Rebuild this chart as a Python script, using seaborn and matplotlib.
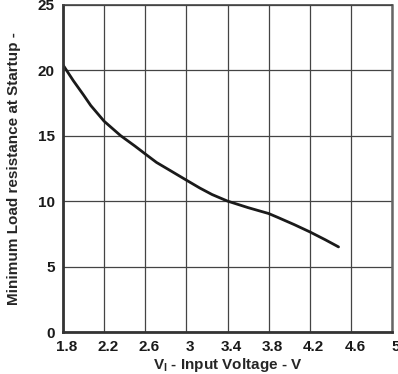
import matplotlib
matplotlib.use("Agg")
import matplotlib.pyplot as plt
import matplotlib.transforms as mtransforms
import seaborn as sns
import numpy as np

# curve
vin = [1.80, 1.90, 2.00, 2.07, 2.20, 2.36, 2.50, 2.60, 2.71, 2.85, 3.00, 3.13, 3.25, 3.40, 3.60, 3.80, 3.89, 4.05, 4.20, 4.35, 4.48]
r_min = [20.4, 19.2, 18.1, 17.3, 16.1, 15.0, 14.2, 13.6, 12.95, 12.3, 11.6, 11.0, 10.5, 10.0, 9.5, 9.05, 8.75, 8.2, 7.65, 7.05, 6.5]

x_ticks = [1.8, 2.2, 2.6, 3.0, 3.4, 3.8, 4.2, 4.6, 5.0]
x_ticklabels = ["1.8", "2.2", "2.6", "3", "3.4", "3.8", "4.2", "4.6", "5"]
y_ticks = [0, 5, 10, 15, 20, 25]

sns.set_style("white")
plt.rcParams['font.family'] = ['Liberation Sans', 'DejaVu Sans']

fig = plt.figure(figsize=(3.98, 3.74), dpi=100)
ax = fig.add_axes([63 / 398, 42 / 374, 329 / 398, 327.3 / 374])

sns.lineplot(x=vin, y=r_min, color="#1a1a1a", linewidth=2.0, ax=ax, sort=False)

ax.set_xlim(1.8, 5.0)
ax.set_ylim(0, 25)
ax.set_xticks(x_ticks)
ax.set_xticklabels(x_ticklabels)
ax.set_yticks(y_ticks)
ax.grid(True, color="#444444", linewidth=0.9)
ax.tick_params(length=0, labelsize=11, pad=6, colors="#1a1a1a")
for lab in ax.get_xticklabels() + ax.get_yticklabels():
    lab.set_fontweight("bold")
# x labels sit a little right of their gridlines in the reference
shift = mtransforms.ScaledTranslation(4 / 100, 0, fig.dpi_scale_trans)
for lab in ax.get_xticklabels():
    lab.set_transform(lab.get_transform() + shift)

for side in ["left", "bottom"]:
    ax.spines[side].set_color("#333333")
    ax.spines[side].set_linewidth(2.0)
ax.spines["right"].set_color("#666666")
ax.spines["right"].set_linewidth(1.8)
ax.spines["top"].set_color("#444444")
ax.spines["top"].set_linewidth(1.2)

ax.set_xlabel("V$_\\mathregular{I}$ - Input Voltage - V", fontsize=11, fontweight="bold", labelpad=1)
ax.set_ylabel("Minimum Load resistance at Startup -", fontsize=11, fontweight="bold", labelpad=12)

fig.savefig("out.png", dpi=100)
